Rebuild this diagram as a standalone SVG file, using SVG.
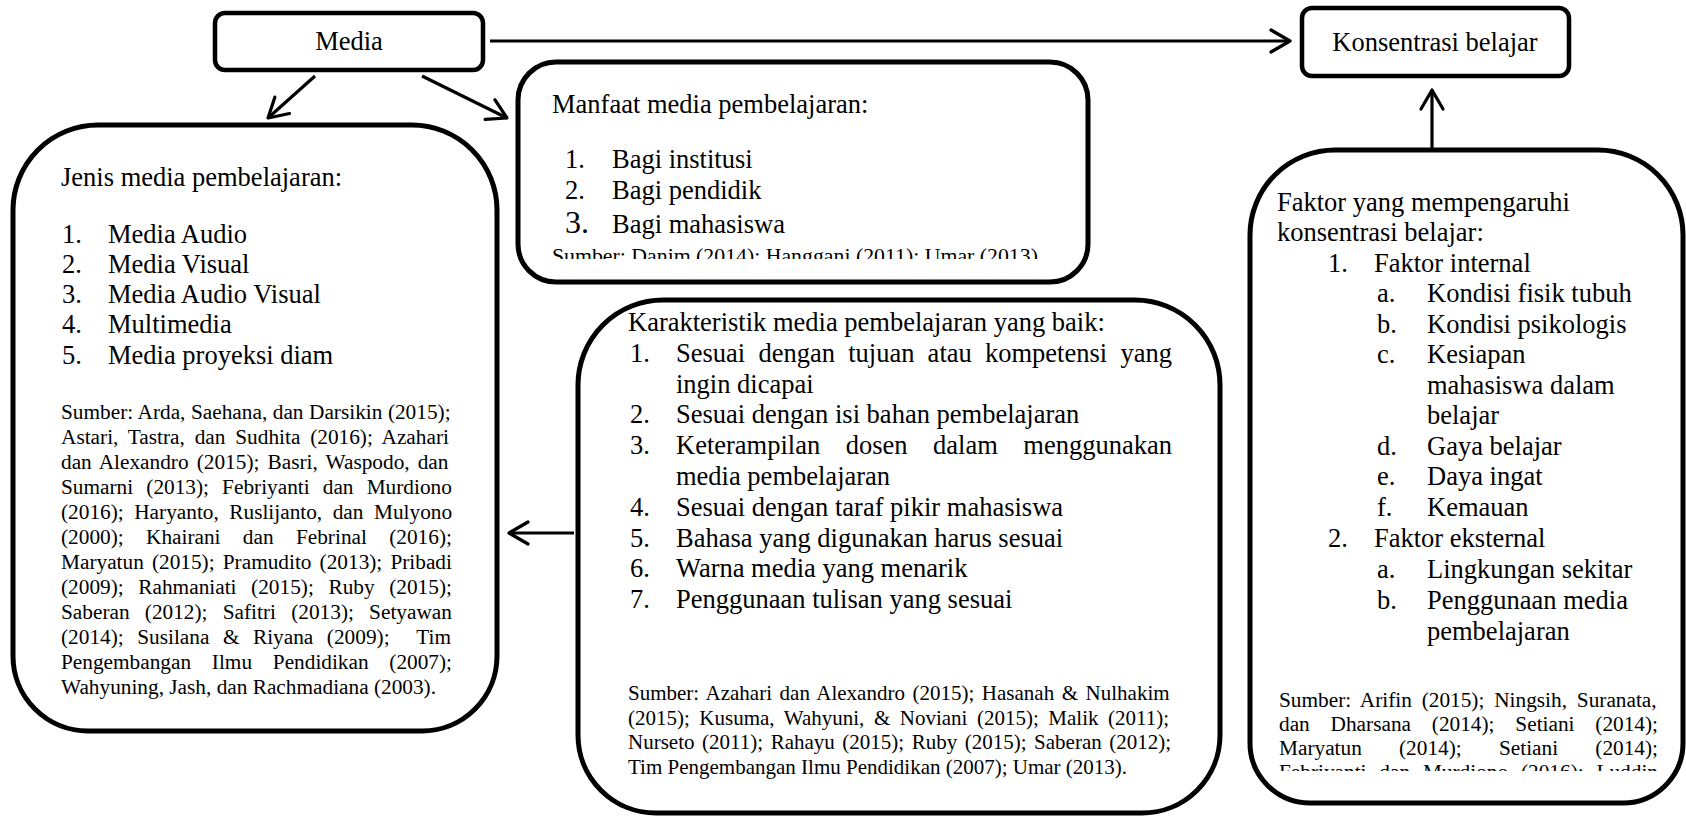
<svg xmlns="http://www.w3.org/2000/svg" width="1686" height="816" viewBox="0 0 1686 816">
<style>
.box{fill:#fff;stroke:#000;stroke-width:5}
.sbox{fill:#fff;stroke:#000;stroke-width:4.5}
.con{fill:none;stroke:#000;stroke-width:3.2}
text{font-family:"Liberation Serif","Times New Roman",serif;fill:#000;font-size:26.5px}
.s{font-size:21.3px}
.k{font-size:21px}
.m{font-size:21.8px}
.c{text-anchor:middle}
</style>
<defs>
<marker id="ah" markerUnits="userSpaceOnUse" viewBox="-22 -13 24 26" refX="0" refY="0" markerWidth="24" markerHeight="26" orient="auto" overflow="visible">
<path d="M-19,-11 L0,0 L-19,11" fill="none" stroke="#000" stroke-width="3.2" stroke-linecap="round" stroke-linejoin="round"/>
</marker>
<clipPath id="clipM"><rect x="520" y="60" width="560" height="199"/></clipPath>
<clipPath id="clipF"><rect x="1252" y="150" width="430" height="621"/></clipPath>
</defs>
<rect width="1686" height="816" fill="#fff"/>

<g id="connectors">
<line class="con" x1="490" y1="41" x2="1290" y2="41" marker-end="url(#ah)"/>
<line class="con" x1="1432" y1="150" x2="1432" y2="90" marker-end="url(#ah)"/>
<line class="con" x1="315" y1="76" x2="268" y2="118" marker-end="url(#ah)"/>
<line class="con" x1="422" y1="76" x2="507" y2="118" marker-end="url(#ah)"/>
<line class="con" x1="574" y1="533" x2="509" y2="533" marker-end="url(#ah)"/>
</g>

<g id="node-media">
<rect class="sbox" x="215" y="13" width="268" height="57" rx="10"/>
<text class="c" x="349" y="50">Media</text>
</g>

<g id="node-konsentrasi">
<rect class="sbox" x="1302" y="8" width="267" height="68" rx="10"/>
<text class="c" x="1435" y="51">Konsentrasi belajar</text>
</g>

<g id="node-jenis">
<path class="box" d="M98,125 H412 A85,85 0 0 1 497,210 V656 A75,75 0 0 1 422,731 H88 A75,75 0 0 1 13,656 V210 A85,85 0 0 1 98,125 Z"/>
<text x="61" y="186">Jenis media pembelajaran:</text>
<text x="62" y="243">1.</text><text x="108" y="243">Media Audio</text>
<text x="62" y="273">2.</text><text x="108" y="273">Media Visual</text>
<text x="62" y="303">3.</text><text x="108" y="303">Media Audio Visual</text>
<text x="62" y="333">4.</text><text x="108" y="333">Multimedia</text>
<text x="62" y="364">5.</text><text x="108" y="364">Media proyeksi diam</text>
<text class="s" x="61" y="419" style="word-spacing:0.2px">Sumber: Arda, Saehana, dan Darsikin (2015);</text>
<text class="s" x="61" y="444" style="word-spacing:4.5px">Astari, Tastra, dan Sudhita (2016); Azahari</text>
<text class="s" x="61" y="469" style="word-spacing:2.8px">dan Alexandro (2015); Basri, Waspodo, dan</text>
<text class="s" x="61" y="494" style="word-spacing:7.8px">Sumarni (2013); Febriyanti dan Murdiono</text>
<text class="s" x="61" y="519" style="word-spacing:5.2px">(2016); Haryanto, Ruslijanto, dan Mulyono</text>
<text class="s" x="61" y="544" style="word-spacing:17px">(2000); Khairani dan Febrinal (2016);</text>
<text class="s" x="61" y="569" style="word-spacing:2.8px">Maryatun (2015); Pramudito (2013); Pribadi</text>
<text class="s" x="61" y="594" style="word-spacing:9.3px">(2009); Rahmaniati (2015); Ruby (2015);</text>
<text class="s" x="61" y="619" style="word-spacing:9.9px">Saberan (2012); Safitri (2013); Setyawan</text>
<text class="s" x="61" y="644" style="word-spacing:8.2px" xml:space="preserve">(2014); Susilana &amp; Riyana (2009);  Tim</text>
<text class="s" x="61" y="669" style="word-spacing:15.4px">Pengembangan Ilmu Pendidikan (2007);</text>
<text class="s" x="61" y="694">Wahyuning, Jash, dan Rachmadiana (2003).</text>
</g>

<g id="node-manfaat">
<rect class="box" x="518" y="62" width="570" height="220" rx="38"/>
<text x="552" y="113">Manfaat media pembelajaran:</text>
<text x="565" y="168">1.</text><text x="612" y="168">Bagi institusi</text>
<text x="565" y="199">2.</text><text x="612" y="199">Bagi pendidik</text>
<text x="565" y="233" style="font-size:32px">3.</text><text x="612" y="233">Bagi mahasiswa</text>
<text class="m" x="552" y="263" clip-path="url(#clipM)">Sumber: Danim (2014); Hanggani (2011); Umar (2013).</text>
</g>

<g id="node-karakteristik">
<path class="box" d="M663,300 H1135 A85,85 0 0 1 1220,385 V735 A78,78 0 0 1 1142,813 H656 A78,78 0 0 1 578,735 V385 A85,85 0 0 1 663,300 Z"/>
<text x="628" y="331">Karakteristik media pembelajaran yang baik:</text>
<text x="630" y="362">1.</text><text x="676" y="362" style="word-spacing:6.6px">Sesuai dengan tujuan atau kompetensi yang</text>
<text x="676" y="393">ingin dicapai</text>
<text x="630" y="423">2.</text><text x="676" y="423">Sesuai dengan isi bahan pembelajaran</text>
<text x="630" y="454">3.</text><text x="676" y="454" style="word-spacing:18.9px">Keterampilan dosen dalam menggunakan</text>
<text x="676" y="485">media pembelajaran</text>
<text x="630" y="516">4.</text><text x="676" y="516">Sesuai dengan taraf pikir mahasiswa</text>
<text x="630" y="547">5.</text><text x="676" y="547">Bahasa yang digunakan harus sesuai</text>
<text x="630" y="577">6.</text><text x="676" y="577">Warna media yang menarik</text>
<text x="630" y="608">7.</text><text x="676" y="608">Penggunaan tulisan yang sesuai</text>
<text class="k" x="628" y="700" style="word-spacing:2.3px">Sumber: Azahari dan Alexandro (2015); Hasanah &amp; Nulhakim</text>
<text class="k" x="628" y="724.5" style="word-spacing:4.3px">(2015); Kusuma, Wahyuni, &amp; Noviani (2015); Malik (2011);</text>
<text class="k" x="628" y="749" style="word-spacing:2.3px">Nurseto (2011); Rahayu (2015); Ruby (2015); Saberan (2012);</text>
<text class="k" x="628" y="773.5">Tim Pengembangan Ilmu Pendidikan (2007); Umar (2013).</text>
</g>

<g id="node-faktor">
<path class="box" d="M1335,150 H1598 A85,85 0 0 1 1683,235 V743 A60,60 0 0 1 1623,803 H1310 A60,60 0 0 1 1250,743 V235 A85,85 0 0 1 1335,150 Z"/>
<text x="1277" y="211">Faktor yang mempengaruhi</text>
<text x="1277" y="241">konsentrasi belajar:</text>
<text x="1328" y="272">1.</text><text x="1374" y="272">Faktor internal</text>
<text x="1377" y="302">a.</text><text x="1427" y="302">Kondisi fisik tubuh</text>
<text x="1377" y="333">b.</text><text x="1427" y="333">Kondisi psikologis</text>
<text x="1377" y="363">c.</text><text x="1427" y="363">Kesiapan</text>
<text x="1427" y="394">mahasiswa dalam</text>
<text x="1427" y="424">belajar</text>
<text x="1377" y="455">d.</text><text x="1427" y="455">Gaya belajar</text>
<text x="1377" y="485">e.</text><text x="1427" y="485">Daya ingat</text>
<text x="1377" y="516">f.</text><text x="1427" y="516">Kemauan</text>
<text x="1328" y="547">2.</text><text x="1374" y="547">Faktor eksternal</text>
<text x="1377" y="578">a.</text><text x="1427" y="578">Lingkungan sekitar</text>
<text x="1377" y="609">b.</text><text x="1427" y="609">Penggunaan media</text>
<text x="1427" y="640">pembelajaran</text>
<text class="s" x="1279" y="707" style="word-spacing:4.5px">Sumber: Arifin (2015); Ningsih, Suranata,</text>
<text class="s" x="1279" y="731" style="word-spacing:15.5px">dan Dharsana (2014); Setiani (2014);</text>
<text class="s" x="1279" y="755" style="word-spacing:31.9px">Maryatun (2014); Setiani (2014);</text>
<text class="s" x="1279" y="779" style="word-spacing:7.5px" clip-path="url(#clipF)">Febriyanti dan Murdiono (2016); Luddin</text>
</g>
</svg>
